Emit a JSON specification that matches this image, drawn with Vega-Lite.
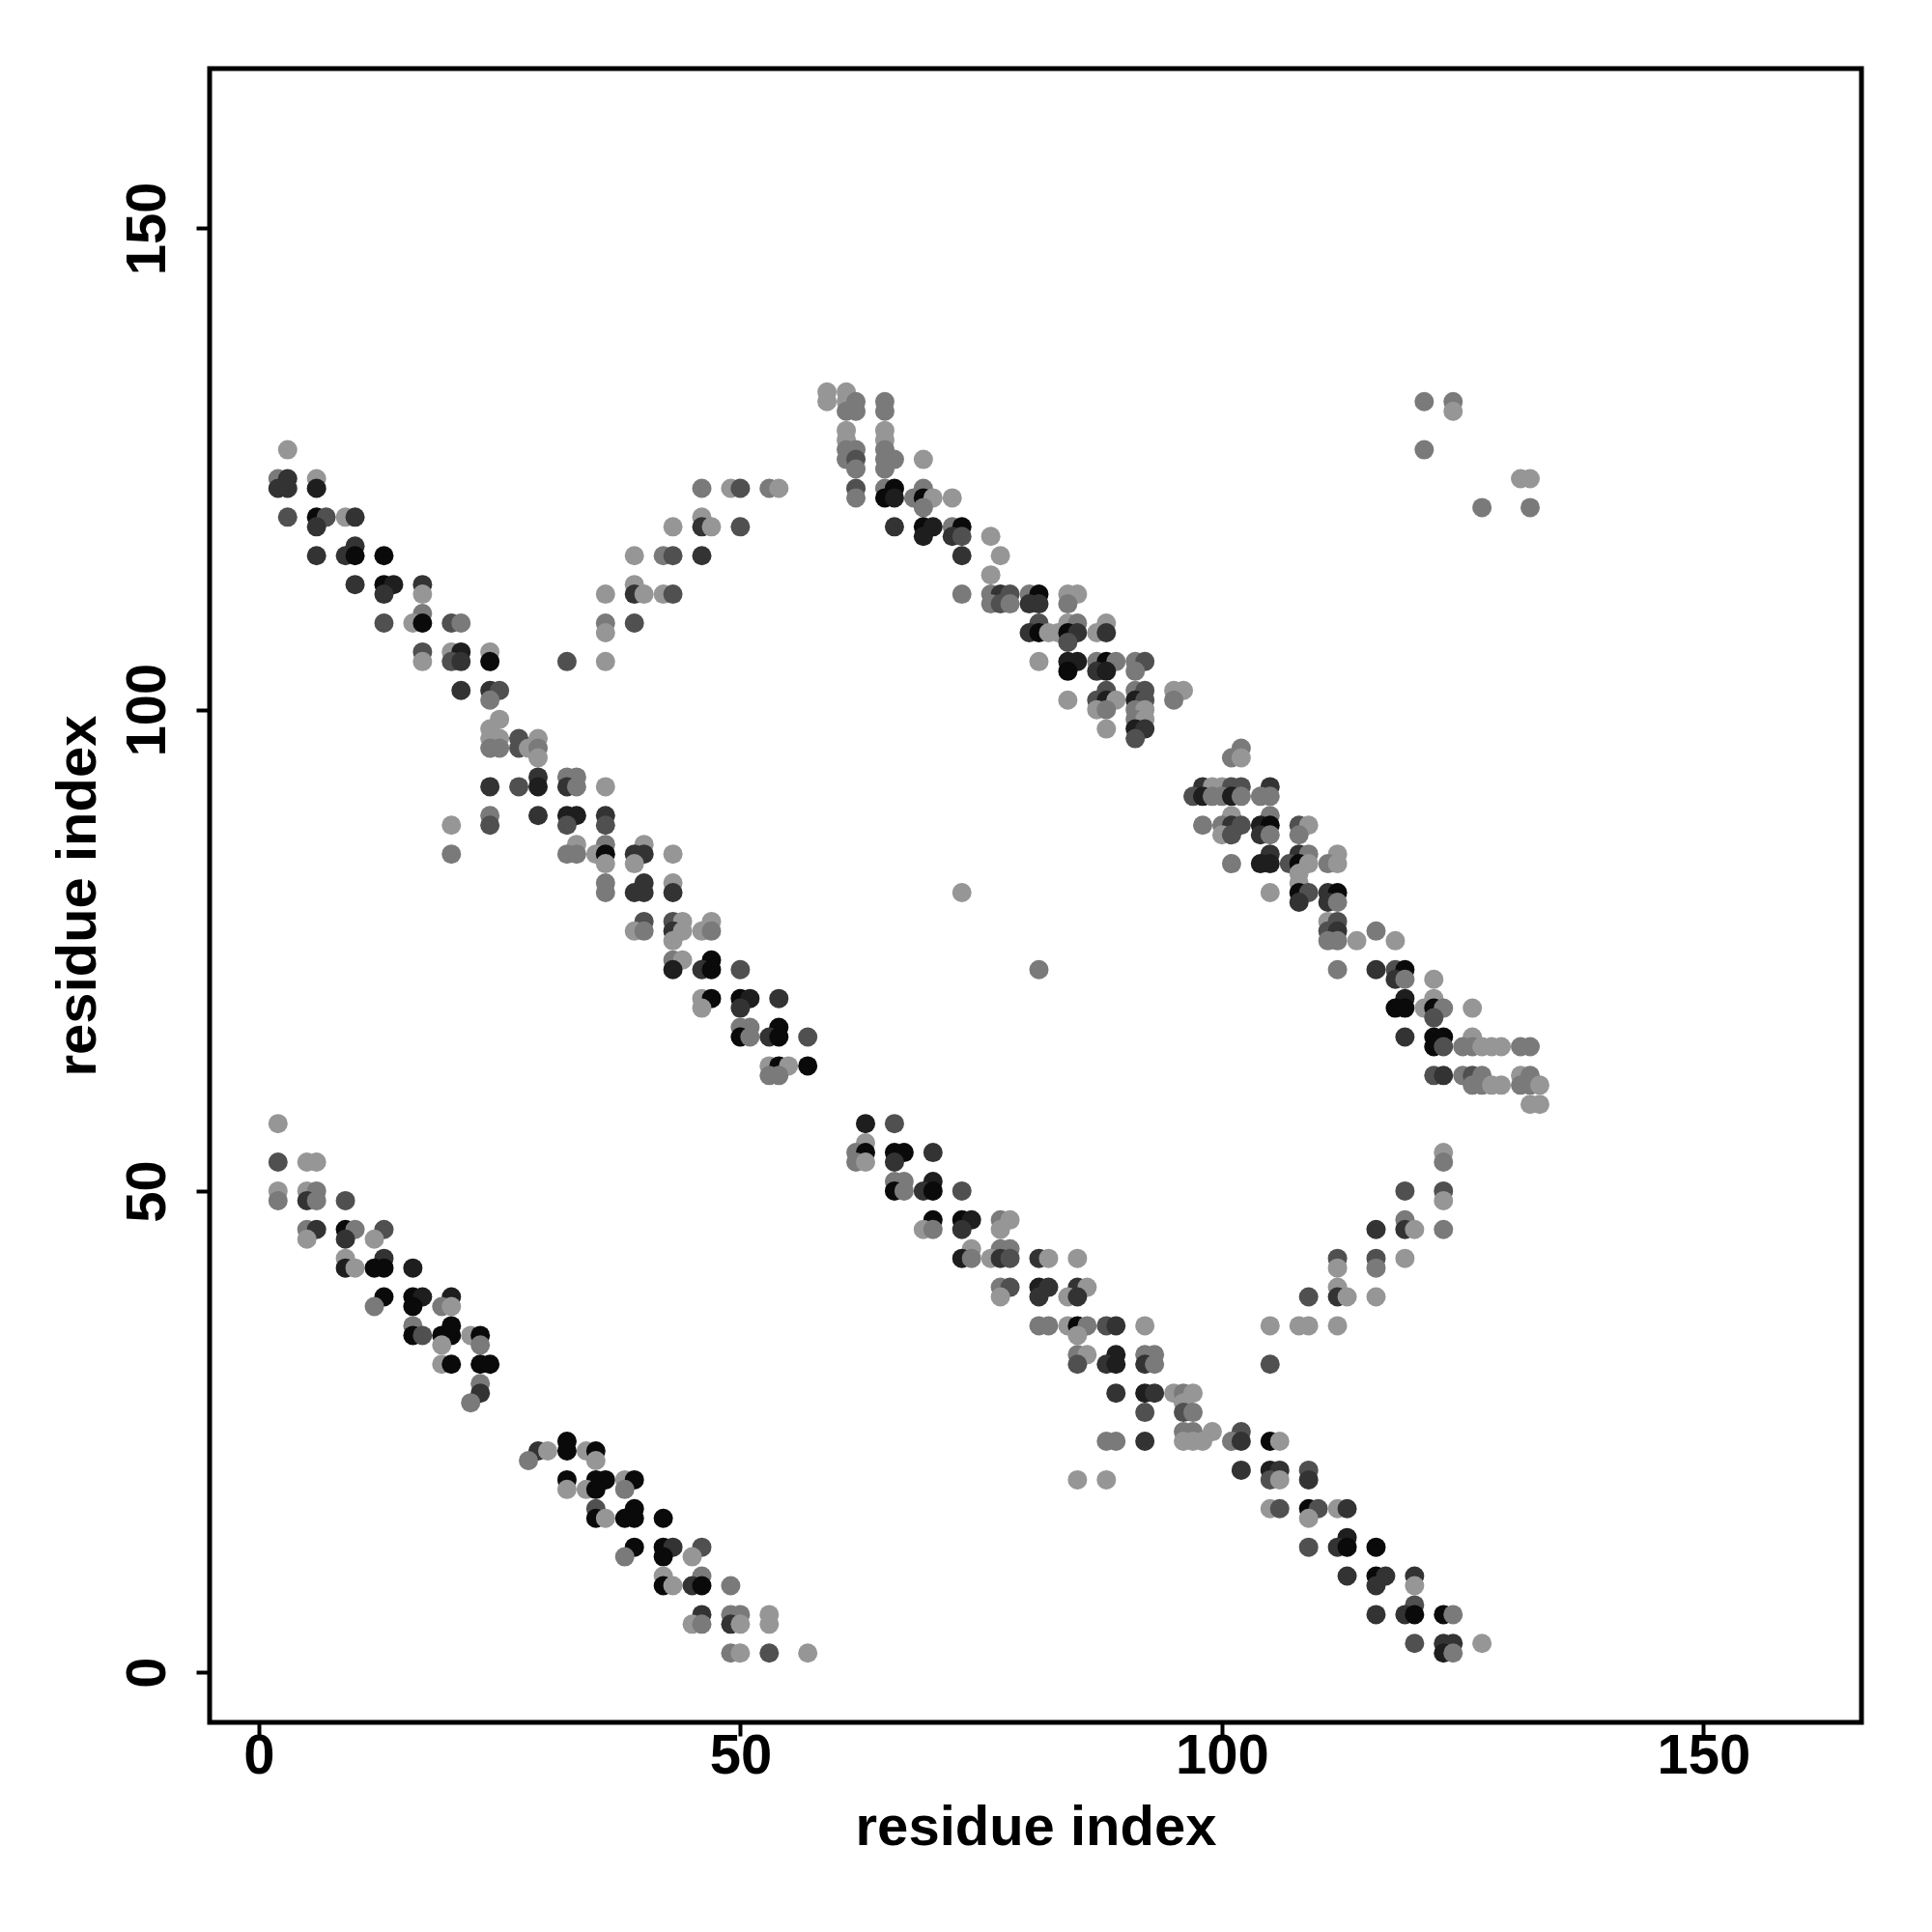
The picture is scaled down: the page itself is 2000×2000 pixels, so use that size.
{
  "$schema": "https://vega.github.io/schema/vega-lite/v6.json",
  "width": 1710,
  "height": 1712,
  "autosize": {"type": "none"},
  "padding": {"left": 217, "top": 71, "right": 73, "bottom": 217},
  "background": "white",
  "config": {
    "view": {"stroke": "black", "strokeWidth": 5},
    "axis": {
      "domain": false,
      "grid": false,
      "ticks": true,
      "tickSize": 14,
      "tickWidth": 4,
      "tickColor": "black",
      "labelFont": "Liberation Sans",
      "labelFontWeight": "bold",
      "labelFontSize": 58,
      "labelColor": "black",
      "titleFont": "Liberation Sans",
      "titleFontWeight": "bold",
      "titleFontSize": 58,
      "titleColor": "black"
    }
  },
  "data": {"values": [
    {"x":3,"y":127,"g":"L"},{"x":2,"y":124,"g":"G"},{"x":3,"y":124,"g":"D"},{"x":6,"y":124,"g":"L"},
    {"x":2,"y":123,"g":"D"},{"x":3,"y":123,"g":"D"},{"x":6,"y":123,"g":"V"},
    {"x":3,"y":120,"g":"M"},{"x":6,"y":120,"g":"B"},{"x":7,"y":120,"g":"M"},{"x":9,"y":120,"g":"L"},{"x":10,"y":120,"g":"D"},
    {"x":6,"y":119,"g":"D"},{"x":10,"y":117,"g":"D"},
    {"x":6,"y":116,"g":"D"},{"x":9,"y":116,"g":"D"},{"x":10,"y":116,"g":"B"},{"x":13,"y":116,"g":"B"},
    {"x":10,"y":113,"g":"D"},{"x":13,"y":113,"g":"B"},{"x":14,"y":113,"g":"V"},{"x":17,"y":113,"g":"D"},
    {"x":13,"y":112,"g":"D"},{"x":17,"y":112,"g":"L"},{"x":17,"y":110,"g":"G"},
    {"x":13,"y":109,"g":"M"},{"x":16,"y":109,"g":"L"},{"x":17,"y":109,"g":"B"},{"x":20,"y":109,"g":"M"},{"x":21,"y":109,"g":"G"},
    {"x":17,"y":106,"g":"M"},{"x":20,"y":106,"g":"L"},{"x":21,"y":106,"g":"V"},{"x":24,"y":106,"g":"L"},
    {"x":17,"y":105,"g":"L"},{"x":20,"y":105,"g":"M"},{"x":21,"y":105,"g":"D"},{"x":24,"y":105,"g":"B"},
    {"x":21,"y":102,"g":"D"},{"x":24,"y":102,"g":"D"},{"x":25,"y":102,"g":"M"},{"x":24,"y":101,"g":"G"},
    {"x":25,"y":99,"g":"L"},{"x":24,"y":98,"g":"L"},
    {"x":24,"y":97,"g":"L"},{"x":25,"y":97,"g":"L"},{"x":27,"y":97,"g":"M"},{"x":29,"y":97,"g":"L"},
    {"x":24,"y":96,"g":"G"},{"x":25,"y":96,"g":"G"},{"x":27,"y":96,"g":"M"},{"x":28,"y":96,"g":"L"},{"x":29,"y":96,"g":"G"},
    {"x":29,"y":95,"g":"L"},{"x":29,"y":93,"g":"D"},
    {"x":24,"y":92,"g":"D"},{"x":27,"y":92,"g":"M"},{"x":29,"y":92,"g":"V"},
    {"x":24,"y":89,"g":"G"},{"x":29,"y":89,"g":"D"},{"x":20,"y":88,"g":"L"},{"x":24,"y":88,"g":"M"},{"x":20,"y":85,"g":"G"},
    {"x":32,"y":93,"g":"G"},{"x":33,"y":93,"g":"G"},
    {"x":32,"y":92,"g":"D"},{"x":33,"y":92,"g":"G"},{"x":36,"y":92,"g":"L"},
    {"x":32,"y":89,"g":"V"},{"x":33,"y":89,"g":"V"},{"x":36,"y":89,"g":"D"},
    {"x":32,"y":88,"g":"M"},{"x":36,"y":88,"g":"M"},
    {"x":33,"y":86,"g":"L"},{"x":36,"y":86,"g":"G"},{"x":40,"y":86,"g":"L"},
    {"x":32,"y":85,"g":"G"},{"x":33,"y":85,"g":"G"},{"x":35,"y":85,"g":"L"},{"x":36,"y":85,"g":"B"},{"x":39,"y":85,"g":"D"},{"x":40,"y":85,"g":"D"},{"x":43,"y":85,"g":"L"},
    {"x":36,"y":84,"g":"L"},{"x":39,"y":84,"g":"L"},
    {"x":36,"y":82,"g":"G"},{"x":40,"y":82,"g":"D"},{"x":43,"y":82,"g":"L"},
    {"x":36,"y":81,"g":"G"},{"x":39,"y":81,"g":"D"},{"x":40,"y":81,"g":"D"},{"x":43,"y":81,"g":"D"},
    {"x":40,"y":78,"g":"M"},{"x":43,"y":78,"g":"M"},{"x":44,"y":78,"g":"L"},{"x":47,"y":78,"g":"L"},
    {"x":39,"y":77,"g":"L"},{"x":40,"y":77,"g":"G"},{"x":43,"y":77,"g":"D"},{"x":44,"y":77,"g":"L"},{"x":46,"y":77,"g":"L"},{"x":47,"y":77,"g":"G"},
    {"x":43,"y":76,"g":"L"},
    {"x":43,"y":74,"g":"G"},{"x":44,"y":74,"g":"L"},{"x":47,"y":74,"g":"B"},
    {"x":43,"y":73,"g":"V"},{"x":46,"y":73,"g":"D"},{"x":47,"y":73,"g":"B"},{"x":50,"y":73,"g":"M"},
    {"x":46,"y":70,"g":"L"},{"x":47,"y":70,"g":"B"},{"x":50,"y":70,"g":"B"},{"x":51,"y":70,"g":"V"},{"x":54,"y":70,"g":"D"},
    {"x":46,"y":69,"g":"L"},{"x":50,"y":69,"g":"D"},
    {"x":50,"y":67,"g":"G"},{"x":51,"y":67,"g":"G"},{"x":54,"y":67,"g":"B"},
    {"x":50,"y":66,"g":"B"},{"x":51,"y":66,"g":"G"},{"x":53,"y":66,"g":"D"},{"x":54,"y":66,"g":"B"},{"x":57,"y":66,"g":"M"},
    {"x":53,"y":63,"g":"L"},{"x":54,"y":63,"g":"B"},{"x":55,"y":63,"g":"L"},{"x":57,"y":63,"g":"B"},
    {"x":53,"y":62,"g":"G"},{"x":54,"y":62,"g":"G"},
    {"x":46,"y":123,"g":"G"},{"x":49,"y":123,"g":"L"},{"x":50,"y":123,"g":"M"},{"x":53,"y":123,"g":"G"},{"x":54,"y":123,"g":"L"},
    {"x":46,"y":120,"g":"L"},
    {"x":43,"y":119,"g":"L"},{"x":46,"y":119,"g":"D"},{"x":47,"y":119,"g":"L"},{"x":50,"y":119,"g":"M"},
    {"x":39,"y":116,"g":"L"},{"x":42,"y":116,"g":"G"},{"x":43,"y":116,"g":"M"},{"x":46,"y":116,"g":"D"},
    {"x":39,"y":113,"g":"L"},
    {"x":36,"y":112,"g":"L"},{"x":39,"y":112,"g":"D"},{"x":40,"y":112,"g":"L"},{"x":42,"y":112,"g":"L"},{"x":43,"y":112,"g":"M"},
    {"x":36,"y":109,"g":"G"},{"x":39,"y":109,"g":"M"},{"x":36,"y":108,"g":"L"},
    {"x":32,"y":105,"g":"M"},{"x":36,"y":105,"g":"L"},
    {"x":59,"y":133,"g":"L"},{"x":61,"y":133,"g":"L"},
    {"x":59,"y":132,"g":"L"},{"x":61,"y":132,"g":"L"},{"x":62,"y":132,"g":"G"},{"x":65,"y":132,"g":"G"},
    {"x":61,"y":131,"g":"G"},{"x":62,"y":131,"g":"G"},{"x":65,"y":131,"g":"G"},
    {"x":61,"y":129,"g":"L"},{"x":65,"y":129,"g":"L"},{"x":61,"y":128,"g":"L"},{"x":65,"y":128,"g":"L"},
    {"x":61,"y":127,"g":"G"},{"x":62,"y":127,"g":"G"},{"x":65,"y":127,"g":"G"},
    {"x":61,"y":126,"g":"G"},{"x":62,"y":126,"g":"M"},{"x":65,"y":126,"g":"G"},{"x":66,"y":126,"g":"G"},{"x":69,"y":126,"g":"L"},
    {"x":62,"y":125,"g":"G"},{"x":65,"y":125,"g":"G"},
    {"x":62,"y":123,"g":"M"},{"x":65,"y":123,"g":"G"},{"x":66,"y":123,"g":"B"},{"x":69,"y":123,"g":"G"},
    {"x":62,"y":122,"g":"G"},{"x":65,"y":122,"g":"B"},{"x":66,"y":122,"g":"V"},{"x":68,"y":122,"g":"G"},{"x":69,"y":122,"g":"B"},{"x":70,"y":122,"g":"L"},{"x":72,"y":122,"g":"L"},
    {"x":69,"y":121,"g":"G"},
    {"x":66,"y":119,"g":"D"},{"x":69,"y":119,"g":"B"},{"x":70,"y":119,"g":"V"},{"x":72,"y":119,"g":"G"},{"x":73,"y":119,"g":"B"},
    {"x":69,"y":118,"g":"V"},{"x":72,"y":118,"g":"D"},{"x":73,"y":118,"g":"M"},{"x":76,"y":118,"g":"L"},
    {"x":73,"y":116,"g":"D"},{"x":77,"y":116,"g":"L"},{"x":76,"y":114,"g":"L"},
    {"x":73,"y":112,"g":"G"},{"x":76,"y":112,"g":"G"},{"x":77,"y":112,"g":"D"},{"x":78,"y":112,"g":"M"},{"x":80,"y":112,"g":"G"},{"x":81,"y":112,"g":"B"},{"x":84,"y":112,"g":"L"},{"x":85,"y":112,"g":"L"},
    {"x":76,"y":111,"g":"G"},{"x":77,"y":111,"g":"M"},{"x":78,"y":111,"g":"G"},{"x":80,"y":111,"g":"D"},{"x":81,"y":111,"g":"D"},{"x":84,"y":111,"g":"G"},
    {"x":81,"y":109,"g":"M"},{"x":84,"y":109,"g":"L"},{"x":85,"y":109,"g":"G"},{"x":88,"y":109,"g":"L"},
    {"x":80,"y":108,"g":"D"},{"x":81,"y":108,"g":"B"},{"x":82,"y":108,"g":"L"},{"x":83,"y":108,"g":"L"},{"x":84,"y":108,"g":"B"},{"x":85,"y":108,"g":"D"},{"x":87,"y":108,"g":"L"},{"x":88,"y":108,"g":"D"},
    {"x":84,"y":107,"g":"M"},
    {"x":81,"y":105,"g":"L"},{"x":84,"y":105,"g":"V"},{"x":85,"y":105,"g":"V"},{"x":87,"y":105,"g":"G"},{"x":88,"y":105,"g":"B"},{"x":89,"y":105,"g":"G"},{"x":91,"y":105,"g":"G"},{"x":92,"y":105,"g":"M"},
    {"x":84,"y":104,"g":"B"},{"x":87,"y":104,"g":"D"},{"x":88,"y":104,"g":"V"},{"x":91,"y":104,"g":"G"},
    {"x":88,"y":102,"g":"M"},{"x":91,"y":102,"g":"G"},{"x":92,"y":102,"g":"M"},{"x":95,"y":102,"g":"L"},{"x":96,"y":102,"g":"L"},
    {"x":84,"y":101,"g":"L"},{"x":87,"y":101,"g":"M"},{"x":88,"y":101,"g":"V"},{"x":89,"y":101,"g":"L"},{"x":91,"y":101,"g":"V"},{"x":92,"y":101,"g":"M"},{"x":95,"y":101,"g":"G"},
    {"x":87,"y":100,"g":"L"},{"x":88,"y":100,"g":"G"},{"x":91,"y":100,"g":"G"},{"x":92,"y":100,"g":"L"},
    {"x":91,"y":99,"g":"G"},{"x":92,"y":99,"g":"L"},
    {"x":88,"y":98,"g":"L"},{"x":91,"y":98,"g":"V"},{"x":92,"y":98,"g":"D"},{"x":91,"y":97,"g":"M"},
    {"x":102,"y":96,"g":"G"},{"x":101,"y":95,"g":"G"},{"x":102,"y":95,"g":"L"},
    {"x":98,"y":92,"g":"D"},{"x":99,"y":92,"g":"L"},{"x":100,"y":92,"g":"L"},{"x":101,"y":92,"g":"M"},{"x":102,"y":92,"g":"M"},{"x":105,"y":92,"g":"D"},
    {"x":97,"y":91,"g":"M"},{"x":98,"y":91,"g":"V"},{"x":99,"y":91,"g":"G"},{"x":100,"y":91,"g":"G"},{"x":101,"y":91,"g":"V"},{"x":102,"y":91,"g":"G"},{"x":104,"y":91,"g":"G"},{"x":105,"y":91,"g":"G"},
    {"x":101,"y":89,"g":"L"},{"x":105,"y":89,"g":"G"},
    {"x":98,"y":88,"g":"G"},{"x":100,"y":88,"g":"G"},{"x":101,"y":88,"g":"D"},{"x":102,"y":88,"g":"M"},{"x":104,"y":88,"g":"V"},{"x":105,"y":88,"g":"B"},{"x":108,"y":88,"g":"M"},{"x":109,"y":88,"g":"L"},
    {"x":100,"y":87,"g":"L"},{"x":101,"y":87,"g":"M"},{"x":104,"y":87,"g":"D"},{"x":105,"y":87,"g":"G"},{"x":108,"y":87,"g":"G"},
    {"x":105,"y":85,"g":"D"},{"x":108,"y":85,"g":"D"},{"x":109,"y":85,"g":"G"},{"x":112,"y":85,"g":"L"},
    {"x":101,"y":84,"g":"G"},{"x":104,"y":84,"g":"V"},{"x":105,"y":84,"g":"V"},{"x":107,"y":84,"g":"M"},{"x":108,"y":84,"g":"B"},{"x":109,"y":84,"g":"L"},{"x":111,"y":84,"g":"G"},{"x":112,"y":84,"g":"L"},
    {"x":108,"y":83,"g":"L"},{"x":108,"y":82,"g":"L"},
    {"x":105,"y":81,"g":"L"},{"x":108,"y":81,"g":"B"},{"x":109,"y":81,"g":"M"},{"x":111,"y":81,"g":"D"},{"x":112,"y":81,"g":"B"},
    {"x":108,"y":80,"g":"D"},{"x":111,"y":80,"g":"D"},{"x":112,"y":80,"g":"G"},
    {"x":111,"y":78,"g":"L"},{"x":112,"y":78,"g":"M"},
    {"x":111,"y":77,"g":"M"},{"x":112,"y":77,"g":"D"},{"x":116,"y":77,"g":"G"},
    {"x":111,"y":76,"g":"G"},{"x":112,"y":76,"g":"G"},{"x":114,"y":76,"g":"L"},{"x":118,"y":76,"g":"L"},
    {"x":112,"y":73,"g":"G"},{"x":116,"y":73,"g":"D"},{"x":118,"y":73,"g":"M"},{"x":119,"y":73,"g":"B"},
    {"x":118,"y":72,"g":"D"},{"x":119,"y":72,"g":"G"},{"x":122,"y":72,"g":"L"},
    {"x":119,"y":70,"g":"V"},{"x":122,"y":70,"g":"L"},
    {"x":118,"y":69,"g":"B"},{"x":119,"y":69,"g":"B"},{"x":121,"y":69,"g":"L"},{"x":122,"y":69,"g":"B"},{"x":123,"y":69,"g":"G"},{"x":126,"y":69,"g":"L"},
    {"x":122,"y":68,"g":"M"},
    {"x":119,"y":66,"g":"D"},{"x":122,"y":66,"g":"B"},{"x":123,"y":66,"g":"B"},{"x":126,"y":66,"g":"L"},
    {"x":122,"y":65,"g":"B"},{"x":123,"y":65,"g":"M"},{"x":125,"y":65,"g":"G"},{"x":126,"y":65,"g":"G"},{"x":127,"y":65,"g":"L"},{"x":128,"y":65,"g":"L"},{"x":129,"y":65,"g":"L"},{"x":131,"y":65,"g":"G"},{"x":132,"y":65,"g":"G"},
    {"x":122,"y":62,"g":"M"},{"x":123,"y":62,"g":"D"},{"x":125,"y":62,"g":"G"},{"x":126,"y":62,"g":"M"},{"x":127,"y":62,"g":"G"},{"x":131,"y":62,"g":"L"},{"x":132,"y":62,"g":"G"},
    {"x":126,"y":61,"g":"G"},{"x":127,"y":61,"g":"G"},{"x":128,"y":61,"g":"L"},{"x":129,"y":61,"g":"L"},{"x":131,"y":61,"g":"G"},{"x":132,"y":61,"g":"G"},{"x":133,"y":61,"g":"L"},
    {"x":132,"y":59,"g":"L"},{"x":133,"y":59,"g":"L"},
    {"x":121,"y":132,"g":"G"},{"x":124,"y":132,"g":"G"},{"x":124,"y":131,"g":"L"},{"x":121,"y":127,"g":"G"},{"x":131,"y":124,"g":"L"},{"x":132,"y":124,"g":"L"},{"x":127,"y":121,"g":"G"},{"x":132,"y":121,"g":"G"},
    {"x":73,"y":81,"g":"L"},{"x":81,"y":73,"g":"G"},
    {"x":2,"y":57,"g":"L"},
    {"x":2,"y":53,"g":"M"},{"x":5,"y":53,"g":"L"},{"x":6,"y":53,"g":"L"},
    {"x":2,"y":50,"g":"L"},{"x":5,"y":50,"g":"L"},{"x":6,"y":50,"g":"G"},
    {"x":2,"y":49,"g":"G"},{"x":5,"y":49,"g":"D"},{"x":6,"y":49,"g":"G"},{"x":9,"y":49,"g":"M"},
    {"x":5,"y":46,"g":"G"},{"x":6,"y":46,"g":"D"},{"x":9,"y":46,"g":"B"},{"x":10,"y":46,"g":"G"},{"x":13,"y":46,"g":"M"},
    {"x":5,"y":45,"g":"L"},{"x":9,"y":45,"g":"D"},{"x":12,"y":45,"g":"L"},
    {"x":9,"y":43,"g":"L"},{"x":13,"y":43,"g":"D"},
    {"x":9,"y":42,"g":"V"},{"x":10,"y":42,"g":"L"},{"x":12,"y":42,"g":"B"},{"x":13,"y":42,"g":"B"},{"x":16,"y":42,"g":"V"},
    {"x":13,"y":39,"g":"B"},{"x":16,"y":39,"g":"B"},{"x":17,"y":39,"g":"V"},{"x":20,"y":39,"g":"V"},
    {"x":12,"y":38,"g":"G"},{"x":16,"y":38,"g":"B"},{"x":19,"y":38,"g":"G"},{"x":20,"y":38,"g":"L"},
    {"x":16,"y":36,"g":"G"},{"x":20,"y":36,"g":"B"},
    {"x":16,"y":35,"g":"B"},{"x":17,"y":35,"g":"M"},{"x":19,"y":35,"g":"B"},{"x":20,"y":35,"g":"B"},{"x":22,"y":35,"g":"L"},{"x":23,"y":35,"g":"B"},
    {"x":19,"y":34,"g":"L"},{"x":23,"y":34,"g":"G"},
    {"x":19,"y":32,"g":"L"},{"x":20,"y":32,"g":"B"},{"x":23,"y":32,"g":"B"},{"x":24,"y":32,"g":"B"},
    {"x":23,"y":30,"g":"G"},{"x":23,"y":29,"g":"D"},{"x":22,"y":28,"g":"G"},
    {"x":32,"y":24,"g":"B"},
    {"x":29,"y":23,"g":"D"},{"x":30,"y":23,"g":"L"},{"x":32,"y":23,"g":"B"},{"x":34,"y":23,"g":"L"},{"x":35,"y":23,"g":"B"},
    {"x":28,"y":22,"g":"G"},{"x":35,"y":22,"g":"L"},
    {"x":32,"y":20,"g":"B"},{"x":35,"y":20,"g":"B"},{"x":36,"y":20,"g":"B"},{"x":38,"y":20,"g":"L"},{"x":39,"y":20,"g":"B"},
    {"x":32,"y":19,"g":"L"},{"x":34,"y":19,"g":"L"},{"x":35,"y":19,"g":"B"},{"x":38,"y":19,"g":"G"},
    {"x":35,"y":17,"g":"M"},{"x":39,"y":17,"g":"B"},
    {"x":35,"y":16,"g":"B"},{"x":36,"y":16,"g":"L"},{"x":38,"y":16,"g":"B"},{"x":39,"y":16,"g":"B"},{"x":42,"y":16,"g":"B"},
    {"x":39,"y":13,"g":"B"},{"x":42,"y":13,"g":"B"},{"x":43,"y":13,"g":"D"},{"x":46,"y":13,"g":"M"},
    {"x":38,"y":12,"g":"G"},{"x":42,"y":12,"g":"B"},{"x":45,"y":12,"g":"L"},
    {"x":42,"y":10,"g":"L"},{"x":46,"y":10,"g":"G"},
    {"x":42,"y":9,"g":"B"},{"x":43,"y":9,"g":"L"},{"x":45,"y":9,"g":"D"},{"x":46,"y":9,"g":"B"},{"x":49,"y":9,"g":"G"},
    {"x":46,"y":6,"g":"D"},{"x":49,"y":6,"g":"G"},{"x":50,"y":6,"g":"G"},{"x":53,"y":6,"g":"L"},
    {"x":45,"y":5,"g":"L"},{"x":46,"y":5,"g":"G"},{"x":49,"y":5,"g":"D"},{"x":50,"y":5,"g":"L"},{"x":53,"y":5,"g":"L"},
    {"x":49,"y":2,"g":"G"},{"x":50,"y":2,"g":"L"},{"x":53,"y":2,"g":"M"},{"x":57,"y":2,"g":"L"},
    {"x":63,"y":57,"g":"V"},{"x":66,"y":57,"g":"M"},{"x":63,"y":55,"g":"L"},
    {"x":62,"y":54,"g":"G"},{"x":63,"y":54,"g":"B"},{"x":66,"y":54,"g":"B"},{"x":67,"y":54,"g":"B"},{"x":70,"y":54,"g":"D"},
    {"x":62,"y":53,"g":"G"},{"x":63,"y":53,"g":"L"},{"x":66,"y":53,"g":"D"},
    {"x":66,"y":51,"g":"G"},{"x":67,"y":51,"g":"G"},{"x":70,"y":51,"g":"V"},
    {"x":66,"y":50,"g":"B"},{"x":67,"y":50,"g":"G"},{"x":69,"y":50,"g":"D"},{"x":70,"y":50,"g":"B"},{"x":73,"y":50,"g":"M"},
    {"x":70,"y":47,"g":"B"},{"x":73,"y":47,"g":"B"},{"x":74,"y":47,"g":"V"},{"x":77,"y":47,"g":"G"},{"x":78,"y":47,"g":"L"},
    {"x":69,"y":46,"g":"L"},{"x":70,"y":46,"g":"G"},{"x":73,"y":46,"g":"D"},{"x":77,"y":46,"g":"L"},
    {"x":74,"y":44,"g":"L"},{"x":77,"y":44,"g":"G"},{"x":78,"y":44,"g":"G"},
    {"x":73,"y":43,"g":"V"},{"x":74,"y":43,"g":"G"},{"x":76,"y":43,"g":"L"},{"x":77,"y":43,"g":"D"},{"x":78,"y":43,"g":"M"},{"x":81,"y":43,"g":"D"},{"x":82,"y":43,"g":"L"},{"x":85,"y":43,"g":"L"},
    {"x":77,"y":40,"g":"G"},{"x":78,"y":40,"g":"M"},{"x":81,"y":40,"g":"V"},{"x":82,"y":40,"g":"D"},{"x":85,"y":40,"g":"D"},{"x":86,"y":40,"g":"L"},
    {"x":77,"y":39,"g":"L"},{"x":81,"y":39,"g":"D"},{"x":84,"y":39,"g":"L"},{"x":85,"y":39,"g":"D"},
    {"x":81,"y":36,"g":"G"},{"x":82,"y":36,"g":"G"},{"x":84,"y":36,"g":"L"},{"x":85,"y":36,"g":"B"},{"x":86,"y":36,"g":"G"},{"x":88,"y":36,"g":"M"},{"x":89,"y":36,"g":"D"},{"x":92,"y":36,"g":"L"},
    {"x":85,"y":35,"g":"L"},
    {"x":85,"y":33,"g":"G"},{"x":86,"y":33,"g":"L"},{"x":89,"y":33,"g":"V"},{"x":92,"y":33,"g":"G"},{"x":93,"y":33,"g":"G"},
    {"x":85,"y":32,"g":"M"},{"x":88,"y":32,"g":"D"},{"x":89,"y":32,"g":"V"},{"x":92,"y":32,"g":"D"},{"x":93,"y":32,"g":"G"},
    {"x":89,"y":29,"g":"D"},{"x":92,"y":29,"g":"V"},{"x":93,"y":29,"g":"D"},{"x":95,"y":29,"g":"L"},{"x":96,"y":29,"g":"G"},{"x":97,"y":29,"g":"L"},
    {"x":96,"y":28,"g":"L"},
    {"x":92,"y":27,"g":"M"},{"x":96,"y":27,"g":"M"},{"x":97,"y":27,"g":"G"},
    {"x":96,"y":25,"g":"G"},{"x":97,"y":25,"g":"G"},{"x":99,"y":25,"g":"L"},
    {"x":88,"y":24,"g":"G"},{"x":89,"y":24,"g":"G"},{"x":92,"y":24,"g":"D"},{"x":96,"y":24,"g":"L"},{"x":97,"y":24,"g":"L"},{"x":98,"y":24,"g":"L"},
    {"x":85,"y":20,"g":"L"},{"x":88,"y":20,"g":"L"},
    {"x":102,"y":25,"g":"M"},
    {"x":101,"y":24,"g":"G"},{"x":102,"y":24,"g":"D"},{"x":105,"y":24,"g":"B"},{"x":106,"y":24,"g":"L"},
    {"x":102,"y":21,"g":"D"},{"x":105,"y":21,"g":"V"},{"x":106,"y":21,"g":"D"},{"x":109,"y":21,"g":"M"},
    {"x":105,"y":20,"g":"M"},{"x":106,"y":20,"g":"L"},{"x":109,"y":20,"g":"D"},
    {"x":105,"y":17,"g":"L"},{"x":106,"y":17,"g":"M"},{"x":109,"y":17,"g":"B"},{"x":110,"y":17,"g":"M"},{"x":112,"y":17,"g":"L"},{"x":113,"y":17,"g":"D"},
    {"x":109,"y":16,"g":"L"},{"x":113,"y":14,"g":"V"},
    {"x":109,"y":13,"g":"M"},{"x":112,"y":13,"g":"D"},{"x":113,"y":13,"g":"B"},{"x":116,"y":13,"g":"B"},
    {"x":113,"y":10,"g":"D"},{"x":116,"y":10,"g":"B"},{"x":117,"y":10,"g":"D"},{"x":120,"y":10,"g":"D"},
    {"x":116,"y":9,"g":"D"},{"x":120,"y":9,"g":"L"},{"x":120,"y":7,"g":"M"},
    {"x":116,"y":6,"g":"D"},{"x":119,"y":6,"g":"D"},{"x":120,"y":6,"g":"B"},{"x":123,"y":6,"g":"B"},{"x":124,"y":6,"g":"G"},
    {"x":120,"y":3,"g":"M"},{"x":123,"y":3,"g":"D"},{"x":124,"y":3,"g":"D"},{"x":127,"y":3,"g":"L"},
    {"x":123,"y":2,"g":"V"},{"x":124,"y":2,"g":"G"},
    {"x":123,"y":54,"g":"L"},{"x":123,"y":53,"g":"G"},
    {"x":119,"y":50,"g":"M"},{"x":123,"y":50,"g":"M"},{"x":123,"y":49,"g":"L"},{"x":119,"y":47,"g":"G"},
    {"x":116,"y":46,"g":"D"},{"x":119,"y":46,"g":"D"},{"x":120,"y":46,"g":"L"},{"x":123,"y":46,"g":"G"},
    {"x":112,"y":43,"g":"M"},{"x":116,"y":43,"g":"M"},{"x":119,"y":43,"g":"L"},
    {"x":112,"y":42,"g":"L"},{"x":116,"y":42,"g":"G"},{"x":112,"y":40,"g":"L"},
    {"x":109,"y":39,"g":"M"},{"x":112,"y":39,"g":"D"},{"x":113,"y":39,"g":"L"},{"x":116,"y":39,"g":"L"},
    {"x":105,"y":36,"g":"L"},{"x":108,"y":36,"g":"L"},{"x":109,"y":36,"g":"L"},{"x":112,"y":36,"g":"L"},
    {"x":105,"y":32,"g":"M"}
  ]},
  "mark": {"type": "point", "shape": "circle", "filled": true, "opacity": 1, "size": 400},
  "encoding": {
    "x": {
      "field": "x", "type": "quantitative",
      "scale": {"domain": [-5.1, 166.4], "nice": false, "zero": false},
      "axis": {"values": [0, 50, 100, 150], "title": "residue index", "labelPadding": -8, "titlePadding": 16}
    },
    "y": {
      "field": "y", "type": "quantitative",
      "scale": {"domain": [-5.2, 166.6], "nice": false, "zero": false},
      "axis": {"values": [0, 50, 100, 150], "title": "residue index", "labelAngle": -90, "labelAlign": "center", "labelBaseline": "bottom", "labelPadding": 21, "titlePadding": 14}
    },
    "color": {
      "field": "g", "type": "nominal", "legend": null,
      "scale": {"domain": ["B", "V", "D", "M", "G", "L"], "range": ["#0a0a0a", "#1e1e1e", "#333333", "#505050", "#7a7a7a", "#969696"]}
    }
  }
}
